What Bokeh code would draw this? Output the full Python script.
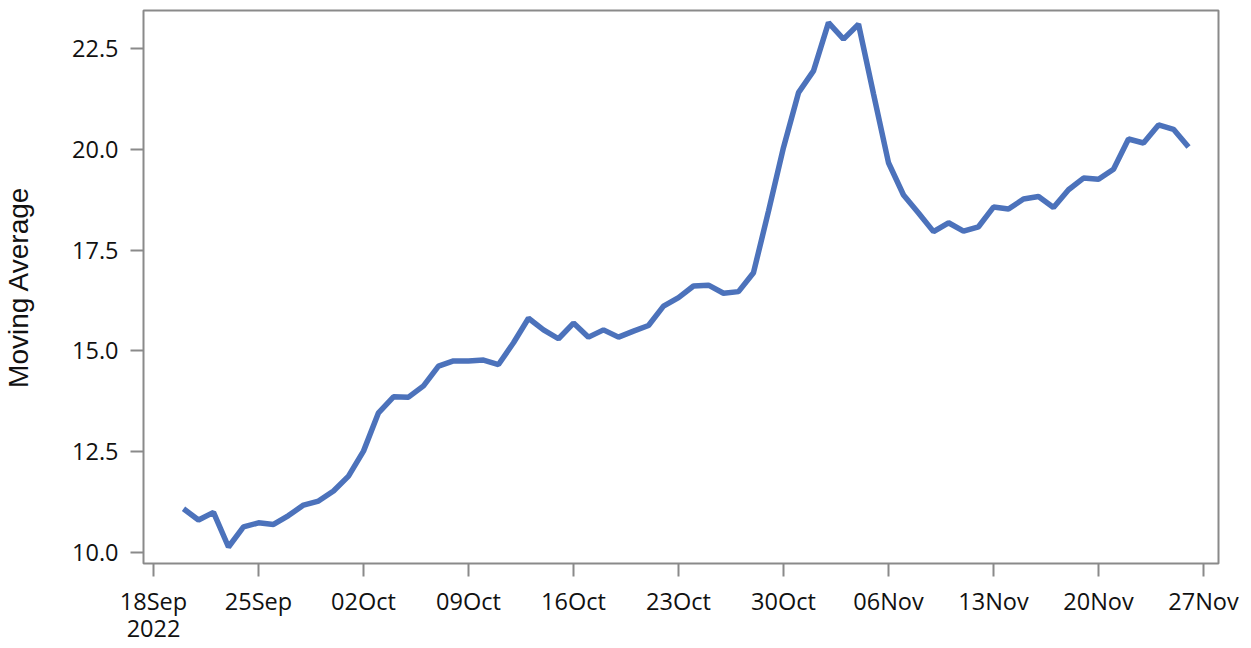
import pandas as pd
from bokeh.plotting import figure
from bokeh.models import (ColumnDataSource, FixedTicker, NumeralTickFormatter,
                          DatetimeTickFormatter, DatetimeAxis, Range1d)
from bokeh.embed import file_html
from bokeh.resources import INLINE

# ---- data ----
start_date = "2022-09-20"
end_date = "2022-11-26"
moving_average = [
    11.08, 10.80, 10.99, 10.13, 10.63, 10.73, 10.69, 10.91, 11.17, 11.27, 11.52,  # Sep 20-30
    11.89, 12.51, 13.46, 13.86, 13.85, 14.13, 14.62, 14.75, 14.75, 14.77,        # Oct 1-10
    14.66, 15.20, 15.81, 15.52, 15.30, 15.69, 15.34, 15.52, 15.34, 15.49,        # Oct 11-20
    15.63, 16.11, 16.32, 16.61, 16.63, 16.43, 16.47, 16.94, 18.47, 20.05, 21.41, # Oct 21-31
    21.95, 23.15, 22.74, 23.11, 21.38, 19.67, 18.87, 18.42, 17.96, 18.18,        # Nov 1-10
    17.97, 18.08, 18.57, 18.52, 18.77, 18.83, 18.56, 19.00, 19.29, 19.26,        # Nov 11-20
    19.51, 20.26, 20.16, 20.61, 20.50, 20.06,                                    # Nov 21-26
]
x_tick_dates = ["2022-09-18", "2022-09-25", "2022-10-02", "2022-10-09", "2022-10-16",
                "2022-10-23", "2022-10-30", "2022-11-06", "2022-11-13", "2022-11-20",
                "2022-11-27"]
y_ticks = [10.0, 12.5, 15.0, 17.5, 20.0, 22.5]

dates = pd.date_range(start_date, end_date, freq="D")
source = ColumnDataSource(data=dict(date=dates, value=moving_average))

x_start = pd.Timestamp("2022-09-17 08:00")
x_end = pd.Timestamp("2022-11-28 00:00")

p = figure(width=1251, height=648, x_axis_type="datetime",
           output_backend="svg", toolbar_location=None,
           x_range=Range1d(x_start, x_end), y_range=Range1d(9.72, 23.45),
           min_border_left=141, min_border_right=33,
           min_border_top=10, min_border_bottom=85)

p.line("date", "value", source=source, line_color="#4C72BB", line_width=5.5)

p.grid.grid_line_color = None
p.outline_line_color = "#8a8a8a"
p.outline_line_width = 2
p.background_fill_color = "white"
p.border_fill_color = "white"

tick_ms = [pd.Timestamp(d).value / 1e6 for d in x_tick_dates]
p.xaxis.ticker = FixedTicker(ticks=tick_ms)
p.xaxis.formatter = DatetimeTickFormatter(
    days="%d%b", months="%d%b", hours="%d%b", years="%d%b")

p.yaxis.ticker = FixedTicker(ticks=y_ticks)
p.yaxis.formatter = NumeralTickFormatter(format="0.0")
p.yaxis.axis_label = "Moving Average"
p.yaxis.axis_label_text_font = "Liberation Sans"
p.yaxis.axis_label_text_font_size = "28px"
p.yaxis.axis_label_text_font_style = "normal"
p.yaxis.axis_label_text_color = "#111111"
p.yaxis.axis_label_standoff = 35

for ax in (p.xaxis, p.yaxis):
    ax.axis_line_color = None
    ax.major_tick_line_color = "#8a8a8a"
    ax.major_tick_line_width = 2
    ax.major_tick_out = 13
    ax.major_tick_in = 0
    ax.minor_tick_line_color = None
    ax.major_label_text_font = "Open Sans"
    ax.major_label_text_font_size = "23.5px"
    ax.major_label_text_color = "#111111"
p.yaxis.major_label_standoff = 12
p.xaxis.major_label_standoff = 8

# second row of the date axis: the year under the first tick
year_fmt = "%Y"
year_axis = DatetimeAxis(
    ticker=FixedTicker(ticks=tick_ms[:1]),
    formatter=DatetimeTickFormatter(
        microseconds=year_fmt, milliseconds=year_fmt, seconds=year_fmt,
        minsec=year_fmt, minutes=year_fmt, hourmin=year_fmt, hours=year_fmt,
        days=year_fmt, months=year_fmt, years=year_fmt),
    axis_line_color=None, major_tick_line_color=None, minor_tick_line_color=None,
    major_tick_out=0, major_tick_in=0, major_label_standoff=0,
    major_label_text_font="Open Sans", major_label_text_font_size="23.5px",
    major_label_text_color="#111111")
p.add_layout(year_axis, "below")

open("out.html", "w").write(file_html(p, INLINE))
